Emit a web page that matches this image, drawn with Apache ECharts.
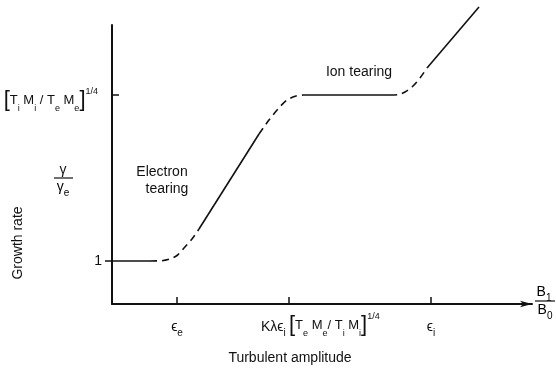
<!DOCTYPE html>
<html>
<head>
<meta charset="utf-8">
<script src="https://cdn.jsdelivr.net/npm/echarts@6/dist/echarts.min.js"></script>
<style>html,body{margin:0;padding:0;background:#fff;}#c{width:556px;height:376px;}</style>
</head>
<body>
<div id="c"></div>
<script>
// ---- data (x: turbulent amplitude, y: growth rate, arbitrary linear units) ----
const xMax = 420;
const yMax = 279;
const xTicks = [65, 177, 319];          // eps_e, K lambda eps_i, eps_i
const yTicks = [43, 209];               // 1, [TiMi/TeMe]^1/4
const electronFlat = [[0, 43], [38, 43]];
const electronBend = [[38, 43], [50, 43.3], [58, 45], [65, 48.5], [72, 56], [80, 65], [87, 75]];
const electronRise = [[87, 75], [147, 170]];
const ionBend = [[147, 170], [157, 184], [166, 195], [175, 204], [184, 208], [191, 209]];
const ionFlat = [[191, 209], [278, 209]];
const ionBend2 = [[278, 209], [286, 209.4], [293, 212], [300, 217], [308, 226], [315, 236]];
const ionRise = [[315, 236], [367, 297]];

const FONT = '"Liberation Sans", Arial, "DejaVu Sans", sans-serif';
const INK = '#111';
const rich = {
  m: {fontSize: 14, lineHeight: 22, fontFamily: FONT, color: INK},
  sub: {fontSize: 10, lineHeight: 12, verticalAlign: 'bottom', fontFamily: FONT, color: INK},
  sup: {fontSize: 10, lineHeight: 12, verticalAlign: 'top', fontFamily: FONT, color: INK},
  br: {fontSize: 24, lineHeight: 26, fontFamily: FONT, color: INK},
  ms: {fontSize: 13, lineHeight: 22, fontFamily: FONT, color: INK},
  ss: {fontSize: 9, lineHeight: 12, verticalAlign: 'bottom', fontFamily: FONT, color: INK},
  ps: {fontSize: 9, lineHeight: 12, verticalAlign: 'top', fontFamily: FONT, color: INK},
  bs: {fontSize: 22, lineHeight: 26, fontFamily: FONT, color: INK}
};

const chart = echarts.init(document.getElementById('c'), null, {renderer: 'canvas'});

function lineSeries(data, dashed) {
  return {
    type: 'line', data: data, symbol: 'none', clip: false, silent: true,
    smooth: dashed ? 0.3 : false,
    lineStyle: {color: INK, width: 1.6, type: dashed ? [7, 5] : 'solid'}
  };
}

const hiddenX = {
  type: 'value', min: 0, max: xMax, position: 'bottom',
  axisLine: {show: false}, axisTick: {show: false}, splitLine: {show: false}
};

chart.setOption({
  animation: false,
  backgroundColor: '#fff',
  grid: {left: 112, right: 24, top: 25, bottom: 72, containLabel: false, outerBoundsMode: 'none'},
  xAxis: [
    {
      type: 'value', min: 0, max: xMax, position: 'bottom',
      axisLine: {show: true, lineStyle: {color: INK, width: 2}, symbol: ['none', 'arrow'], symbolSize: [5, 12]},
      axisTick: {show: true, inside: true, length: 7, customValues: xTicks, lineStyle: {color: INK, width: 1.5}},
      splitLine: {show: false},
      axisLabel: {
        customValues: [xTicks[0], xTicks[2]], margin: 12, rich: rich,
        formatter: function (v) {
          return v === xTicks[0] ? '{m|ϵ}{sub|e}' : '{m|ϵ}{sub|i}';
        }
      }
    },
    Object.assign({}, hiddenX, {
      axisLabel: {customValues: [xTicks[1]], margin: 12, align: 'right', rich: rich,
        formatter: function () { return '{m|Kλϵ}{sub|i} '; }}
    }),
    Object.assign({}, hiddenX, {
      axisLabel: {customValues: [xTicks[1]], margin: 8, align: 'left', rich: rich,
        formatter: function () { return '{bs|[}{ms|T}{ss|e}{ms| M}{ss|e}{ms|/ T}{ss|i}{ms| M}{ss|i}{bs|]}{ps|1/4}'; }}
    })
  ],
  yAxis: [
    {
      type: 'value', min: 0, max: yMax,
      axisLine: {show: true, lineStyle: {color: INK, width: 2}},
      axisTick: {show: true, inside: false, length: 7, customValues: [yTicks[0]], lineStyle: {color: INK, width: 1.5}},
      splitLine: {show: false},
      axisLabel: {customValues: [yTicks[0]], margin: 10, rich: rich, formatter: function () { return '{m|1}'; }}
    },
    {
      type: 'value', min: 0, max: yMax, position: 'left',
      axisLine: {show: false},
      axisTick: {show: true, inside: true, length: 7, customValues: [yTicks[1]], lineStyle: {color: INK, width: 1.5}},
      splitLine: {show: false},
      axisLabel: {customValues: [yTicks[1]], margin: 14, rich: rich, padding: [10, 0, 0, 0],
        formatter: function () { return '{bs|[}{ms|T}{ss|i}{ms| M}{ss|i}{ms| / T}{ss|e}{ms| M}{ss|e}{bs|]}{ps|1/4}'; }}
    }
  ],
  series: [
    lineSeries(electronFlat, false),
    lineSeries(electronBend, true),
    lineSeries(electronRise, false),
    lineSeries(ionBend, true),
    lineSeries(ionFlat, false),
    lineSeries(ionBend2, true),
    lineSeries(ionRise, false)
  ],
  graphic: [
    {type: 'text', x: 18, y: 243, rotation: Math.PI / 2,
      style: {text: 'Growth rate', fontSize: 14, fontFamily: FONT, fill: INK, align: 'center', verticalAlign: 'middle'}},
    {type: 'text', x: 63, y: 170, style: {text: 'γ', fontSize: 14, fontFamily: FONT, fill: INK, align: 'center', verticalAlign: 'middle'}},
    {type: 'line', shape: {x1: 54, y1: 178, x2: 73, y2: 178}, style: {stroke: INK, lineWidth: 1.2}},
    {type: 'text', x: 63, y: 187, style: {text: '{m|γ}{sub|e}', rich: rich, align: 'center', verticalAlign: 'middle'}},
    {type: 'text', x: 162, y: 172, style: {text: 'Electron', fontSize: 14, fontFamily: FONT, fill: INK, align: 'center', verticalAlign: 'middle'}},
    {type: 'text', x: 167, y: 189, style: {text: 'tearing', fontSize: 14, fontFamily: FONT, fill: INK, align: 'center', verticalAlign: 'middle'}},
    {type: 'text', x: 359, y: 72, style: {text: 'Ion tearing', fontSize: 14, fontFamily: FONT, fill: INK, align: 'center', verticalAlign: 'middle'}},
    {type: 'text', x: 544, y: 292, style: {text: '{m|B}{sub|1}', rich: rich, align: 'center', verticalAlign: 'middle'}},
    {type: 'line', shape: {x1: 535, y1: 301, x2: 555, y2: 301}, style: {stroke: INK, lineWidth: 1.2}},
    {type: 'text', x: 545, y: 310, style: {text: '{m|B}{sub|0}', rich: rich, align: 'center', verticalAlign: 'middle'}},
    {type: 'text', x: 290, y: 358, style: {text: 'Turbulent amplitude', fontSize: 14, fontFamily: FONT, fill: INK, align: 'center', verticalAlign: 'middle'}}
  ]
});
</script>
</body>
</html>
